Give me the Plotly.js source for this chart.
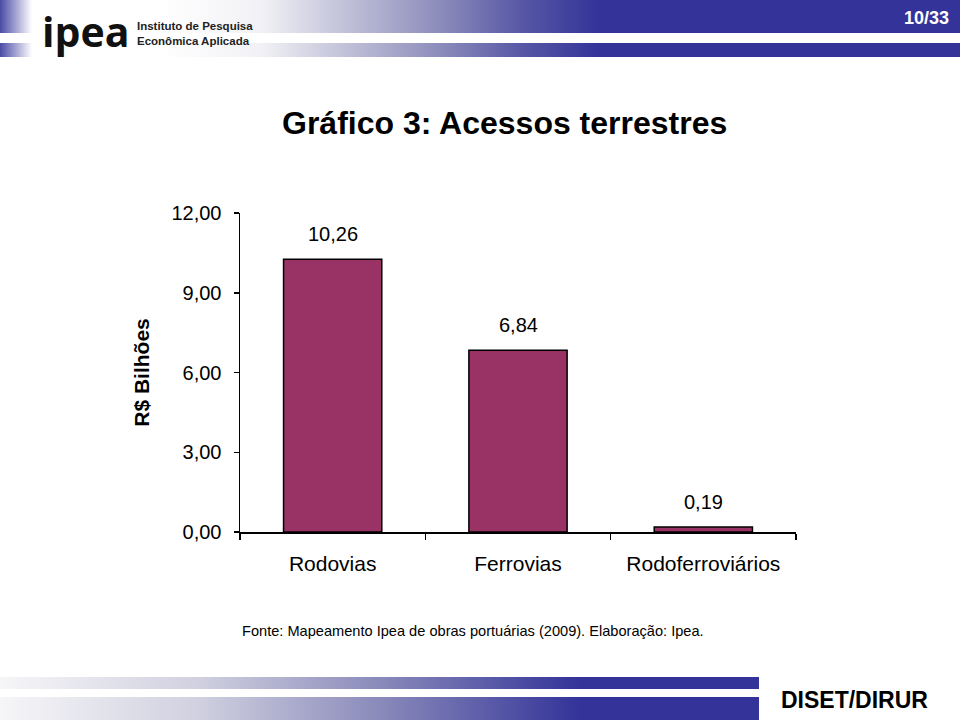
<!DOCTYPE html>
<html>
<head>
<meta charset="utf-8">
<script src="https://cdn.plot.ly/plotly-3.0.1.min.js"></script>
<style>
  html, body { margin: 0; padding: 0; background: #ffffff; }
  #wrap { position: relative; width: 960px; height: 720px; overflow: hidden; }
  .band { position: absolute; }
  #chart { position: absolute; left: 0; top: 0; width: 960px; height: 720px; }
</style>
</head>
<body>
<div id="wrap">
  <div class="band" style="left:0;top:0;width:960px;height:33px;background:linear-gradient(to right,#4a4aa6 0px,#ffffff 32px,#ffffff 160px,#f2f2f6 260px,#c4c4da 340px,#8c8cbc 440px,#5858a6 520px,#333399 600px,#333399 960px);"></div>
  <div class="band" style="left:0;top:43px;width:960px;height:14px;background:linear-gradient(to right,#4a4aa6 0px,#ffffff 32px,#ffffff 160px,#f2f2f6 260px,#c4c4da 340px,#8c8cbc 440px,#5858a6 520px,#333399 600px,#333399 960px);"></div>
  <div class="band" style="left:0;top:677px;width:759px;height:12px;background:linear-gradient(to right,#f6f6f8 0px,#d0d0e0 200px,#8a8abb 380px,#333399 580px,#333399 759px);"></div>
  <div class="band" style="left:0;top:697px;width:759px;height:23px;background:linear-gradient(to right,#f6f6f8 0px,#d0d0e0 200px,#8a8abb 380px,#333399 580px,#333399 759px);"></div>
  <div id="chart"></div>
</div>
<script>
const categories = ["Rodovias", "Ferrovias", "Rodoferroviários"];
const values = [10.26, 6.84, 0.19];
const yTicks = [0, 3, 6, 9, 12];

const FONT = "Arial, Liberation Sans, sans-serif";
const PLOT = { l: 240, r: 796, t: 213, b: 532 };

const trace = {
  type: "bar",
  x: categories,
  y: values,
  marker: { color: "#993366", line: { color: "#000000", width: 1.5 } },
  hoverinfo: "none"
};

const valueLabels = categories.map((c, i) => ({
  x: c, y: values[i], xref: "x", yref: "y",
  text: values[i].toFixed(2).replace(".", ","),
  showarrow: false, yanchor: "bottom", yshift: 12,
  font: { family: FONT, size: 20, color: "#000" }
}));

const pageTexts = [
  { text: "Gráfico 3: Acessos terrestres", x: 504, y: 123, size: 32, bold: true, color: "#000", xanchor: "center", family: FONT },
  { text: "Fonte: Mapeamento Ipea de obras portuárias (2009). Elaboração: Ipea.", x: 240, y: 631, size: 14.6, bold: false, color: "#000", xanchor: "left", family: FONT },
  { text: "10/33", x: 951, y: 18, size: 18, bold: true, color: "#ffffff", xanchor: "right", family: FONT },
  { text: "DISET/DIRUR", x: 930, y: 700, size: 23, bold: true, color: "#000", xanchor: "right", family: FONT },
  { text: "ipea", x: 40, y: 31, size: 41, bold: true, color: "#111", xanchor: "left", family: "Open Sans, sans-serif" },
  { text: "Instituto de Pesquisa", x: 135, y: 26, size: 11.5, bold: true, color: "#222", xanchor: "left", family: FONT },
  { text: "Econômica Aplicada", x: 135, y: 41, size: 11.5, bold: true, color: "#222", xanchor: "left", family: FONT }
].map(t => ({
  text: t.bold ? "<b>" + t.text + "</b>" : t.text,
  xref: "paper", yref: "paper",
  x: (t.x - PLOT.l) / (PLOT.r - PLOT.l),
  y: (PLOT.b - t.y) / (PLOT.b - PLOT.t),
  xanchor: t.xanchor, yanchor: "middle",
  showarrow: false,
  font: { family: t.family, size: t.size, color: t.color }
}));

const layout = {
  width: 960, height: 720,
  margin: { l: PLOT.l, r: 960 - PLOT.r, t: PLOT.t, b: 720 - PLOT.b, pad: 0 },
  paper_bgcolor: "rgba(0,0,0,0)",
  plot_bgcolor: "rgba(0,0,0,0)",
  separators: ",.",
  bargap: 0.47,
  showlegend: false,
  font: { family: FONT, size: 18, color: "#000" },
  xaxis: {
    type: "category",
    showline: true, linecolor: "#000", linewidth: 1.5,
    ticks: "outside", tickson: "boundaries", ticklen: 6, tickcolor: "#000", tickwidth: 1.5,
    ticklabelstandoff: 12,
    showgrid: false, zeroline: false,
    tickfont: { size: 21, color: "#000" }
  },
  yaxis: {
    range: [0, 12],
    tickvals: yTicks,
    tickformat: ".2f",
    showline: true, linecolor: "#000", linewidth: 1.5,
    ticks: "outside", ticklen: 5, tickcolor: "#000", tickwidth: 1.5,
    ticklabelstandoff: 8,
    showgrid: false, zeroline: false,
    tickfont: { size: 20, color: "#000" },
    title: { text: "<b>R$ Bilhões</b>", standoff: 16, font: { size: 21, color: "#000" } }
  },
  annotations: valueLabels.concat(pageTexts)
};

Plotly.newPlot("chart", [trace], layout, { displayModeBar: false, staticPlot: true });
</script>
</body>
</html>
